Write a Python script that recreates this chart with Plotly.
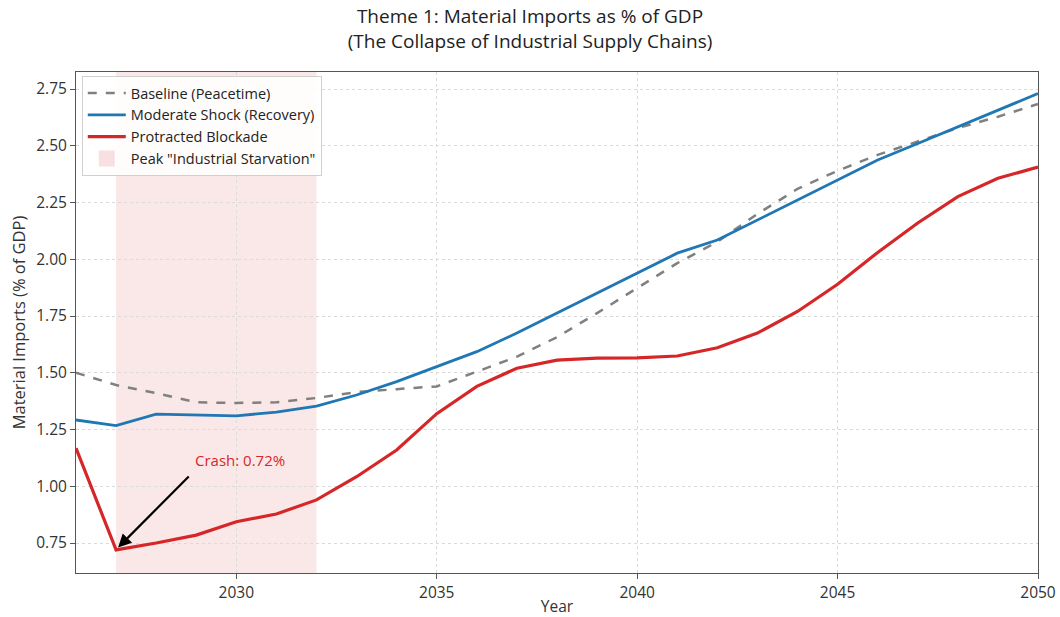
import plotly.graph_objects as go

years = list(range(2026, 2051))
baseline = [1.50, 1.446, 1.41, 1.37, 1.367, 1.37, 1.389, 1.415, 1.428, 1.44, 1.505, 1.571,
            1.657, 1.763, 1.873, 1.983, 2.077, 2.20, 2.31, 2.39, 2.46, 2.518, 2.578, 2.628, 2.684]
moderate = [1.292, 1.267, 1.318, 1.314, 1.31, 1.327, 1.353, 1.402, 1.461, 1.527, 1.593, 1.675,
            1.763, 1.85, 1.94, 2.027, 2.085, 2.173, 2.26, 2.35, 2.437, 2.51, 2.584, 2.657, 2.73]
blockade = [1.168, 0.72, 0.75, 0.785, 0.844, 0.878, 0.94, 1.042, 1.16, 1.32, 1.44, 1.52,
            1.556, 1.565, 1.566, 1.574, 1.61, 1.675, 1.77, 1.89, 2.03, 2.16, 2.276, 2.357, 2.406]
starve_start, starve_end = 2027, 2032
crash_year, crash_value = 2027, 0.72
x_ticks = [2030, 2035, 2040, 2045, 2050]
y_ticks = [0.75, 1.00, 1.25, 1.50, 1.75, 2.00, 2.25, 2.50, 2.75]

FONT = "Open Sans"
fig = go.Figure()

fig.add_trace(go.Scatter(x=years, y=baseline, mode="lines", name="Baseline (Peacetime)",
                         line=dict(color="#808080", width=2.5, dash="dash")))
fig.add_trace(go.Scatter(x=years, y=moderate, mode="lines", name="Moderate Shock (Recovery)",
                         line=dict(color="#1f77b4", width=2.8)))
fig.add_trace(go.Scatter(x=years, y=blockade, mode="lines", name="Protracted Blockade",
                         line=dict(color="#d62728", width=3.2)))
fig.add_trace(go.Scatter(x=[None], y=[None], mode="markers", name='Peak "Industrial Starvation"',
                         marker=dict(symbol="square", size=16, color="rgba(214,39,40,0.15)")))

fig.add_vrect(x0=starve_start, x1=starve_end, fillcolor="rgba(214,39,40,0.11)",
              line_width=0, layer="below")

# arrow
fig.add_annotation(x=crash_year + 0.05, y=crash_value + 0.01, xref="x", yref="y",
                   ax=crash_year + 1.85, ay=crash_value + 0.33, axref="x", ayref="y",
                   text="", showarrow=True, arrowhead=2, arrowsize=1.2, arrowwidth=2.2,
                   arrowcolor="black")
fig.add_annotation(x=crash_year + 3.1, y=crash_value + 0.395, xref="x", yref="y",
                   text=f"Crash: {crash_value:.2f}%", showarrow=False,
                   font=dict(family=FONT, size=15, color="#d62728"))

fig.update_layout(
    width=1060, height=617,
    paper_bgcolor="white", plot_bgcolor="white",
    margin=dict(l=76, r=22, t=72, b=44),
    title=dict(text="Theme 1: Material Imports as % of GDP<br>(The Collapse of Industrial Supply Chains)",
               x=0.5, xanchor="center", y=0.962, yanchor="top",
               font=dict(family=FONT, size=19, color="#222")),
    font=dict(family=FONT, size=15, color="#333"),
    legend=dict(x=0.006, y=0.992, xanchor="left", yanchor="top",
                bgcolor="rgba(255,255,255,0.85)", bordercolor="#d0d0d0", borderwidth=1,
                font=dict(family=FONT, size=14.5, color="#222"), tracegroupgap=0,
                itemwidth=38),
    showlegend=True,
)
fig.update_xaxes(range=[2026, 2050], tickvals=x_ticks, ticks="outside", ticklen=5,
                 tickcolor="#555", showgrid=True, gridcolor="#dadada", griddash="dot",
                 gridwidth=1, automargin=False, tickfont=dict(size=15.5),
                 showline=True, linecolor="#555", linewidth=1, mirror=True, zeroline=False,
                 title=dict(text="Year", font=dict(family=FONT, size=15.5), standoff=3))
fig.update_yaxes(range=[0.618, 2.825], tickvals=y_ticks, tickformat=".2f", ticks="outside",
                 ticklen=5, tickcolor="#555", showgrid=True, gridcolor="#dadada", griddash="dot",
                 gridwidth=1, automargin=False, tickfont=dict(size=15.5),
                 showline=True, linecolor="#555", linewidth=1, mirror=True, zeroline=False,
                 title=dict(text="Material Imports (% of GDP)", font=dict(family=FONT, size=16.5),
                            standoff=6))

fig.write_html("out.html", config={"displayModeBar": False},
               post_script="document.body.style.margin='0';document.body.style.overflow='hidden';")
